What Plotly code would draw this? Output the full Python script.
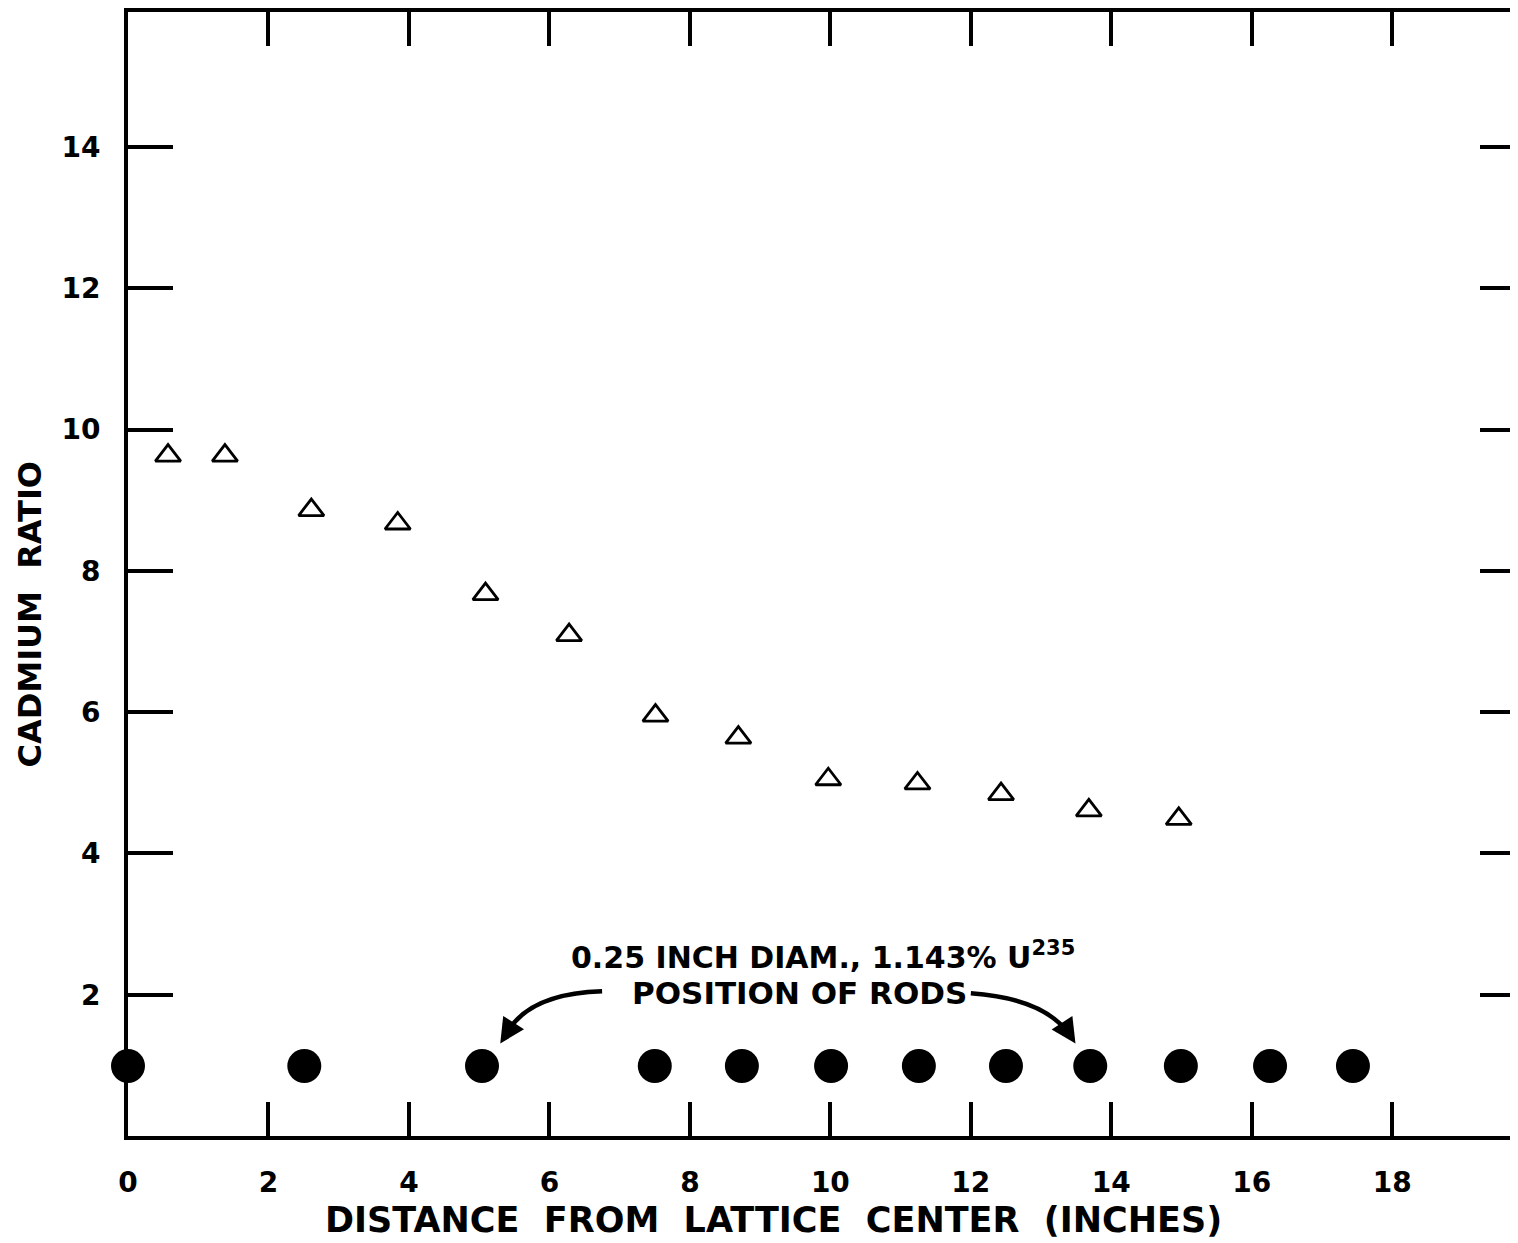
import plotly.graph_objects as go

# Data
tri_x = [0.57, 1.38, 2.61, 3.84, 5.09, 6.28, 7.51, 8.69, 9.97, 11.24, 12.43, 13.68, 14.96]
tri_y = [9.63, 9.63, 8.86, 8.67, 7.67, 7.09, 5.95, 5.64, 5.05, 4.99, 4.84, 4.61, 4.49]
rod_x = [0.0, 2.51, 5.04, 7.50, 8.74, 10.01, 11.26, 12.50, 13.70, 14.99, 16.26, 17.44]
rod_y = [0.99] * len(rod_x)

x_ticks = [0, 2, 4, 6, 8, 10, 12, 14, 16, 18]
y_ticks = [2, 4, 6, 8, 10, 12, 14]

FONT = "DejaVu Sans"
BLACK = "#000000"

fig = go.Figure()
fig.add_trace(go.Scatter(
    x=tri_x, y=tri_y, mode="markers",
    marker=dict(symbol="triangle-up-open", size=22, color=BLACK, line=dict(width=2.8, color=BLACK)),
    cliponaxis=False, showlegend=False))
fig.add_trace(go.Scatter(
    x=rod_x, y=rod_y, mode="markers",
    marker=dict(symbol="circle", size=34, color=BLACK, line=dict(width=0)),
    cliponaxis=False, showlegend=False))
# invisible trace for right-side tick axis
fig.add_trace(go.Scatter(x=[None], y=[None], yaxis="y2", showlegend=False))

fig.update_layout(
    width=1510, height=1235,
    margin=dict(l=120, r=0, t=2, b=107),
    paper_bgcolor="white", plot_bgcolor="white",
    xaxis=dict(range=[0, 19.79], tickvals=x_ticks, ticktext=[str(v) for v in x_ticks],
               ticks="inside", ticklen=34, tickwidth=3.5, tickcolor=BLACK,
               showline=True, linewidth=4, linecolor=BLACK, mirror="ticks",
               showgrid=False, zeroline=False,
               tickfont=dict(family=FONT, size=28, color=BLACK, weight="bold"),
               ticklabelstandoff=18),
    yaxis=dict(range=[0, 15.91], tickvals=y_ticks, ticktext=[str(v) for v in y_ticks],
               ticks="inside", ticklen=45, tickwidth=3.5, tickcolor=BLACK,
               showline=True, linewidth=4, linecolor=BLACK, mirror=False,
               showgrid=False, zeroline=False,
               tickfont=dict(family=FONT, size=28, color=BLACK, weight="bold"),
               ticklabelstandoff=18),
    yaxis2=dict(range=[0, 15.91], overlaying="y", side="right", tickvals=y_ticks,
                showticklabels=False, ticks="inside", ticklen=38, tickwidth=3.5,
                tickcolor=BLACK, showline=False, showgrid=False, zeroline=False),
)

# Axis titles
fig.add_annotation(text="DISTANCE  FROM  LATTICE  CENTER  (INCHES)",
                   xref="paper", yref="paper", x=(772 - 125) / 1393, y=-0.0745,
                   xanchor="center", yanchor="middle", showarrow=False,
                   font=dict(family=FONT, size=35, color=BLACK, weight="bold"))
fig.add_annotation(text="CADMIUM  RATIO", textangle=-90,
                   xref="paper", yref="paper", x=-0.0705, y=0.464,
                   xanchor="center", yanchor="middle", showarrow=False,
                   font=dict(family=FONT, size=32, color=BLACK, weight="bold"))

# Rod annotation text
fig.add_annotation(text="0.25 INCH DIAM., 1.143% U<sup>235</sup>",
                   xref="x", yref="y", x=9.89, y=2.55, xanchor="center", yanchor="middle",
                   showarrow=False, font=dict(family=FONT, size=30, color=BLACK, weight="bold"))
fig.add_annotation(text="POSITION OF RODS",
                   xref="x", yref="y", x=9.56, y=2.02, xanchor="center", yanchor="middle",
                   showarrow=False, font=dict(family=FONT, size=31, color=BLACK, weight="bold"))

# Curved arrows
fig.add_shape(type="path", xref="x", yref="y",
              path="M 6.75,2.05 Q 5.75,2.02 5.42,1.50",
              line=dict(color=BLACK, width=4.5))
fig.add_annotation(x=5.30, y=1.31, ax=5.50, ay=1.62, xref="x", yref="y", axref="x", ayref="y",
                   text="", showarrow=True, arrowhead=2, arrowsize=1.1, arrowwidth=4.5,
                   arrowcolor=BLACK, standoff=0)
fig.add_shape(type="path", xref="x", yref="y",
              path="M 12.0,2.02 Q 13.0,1.95 13.37,1.48",
              line=dict(color=BLACK, width=4.5))
fig.add_annotation(x=13.49, y=1.31, ax=13.30, ay=1.60, xref="x", yref="y", axref="x", ayref="y",
                   text="", showarrow=True, arrowhead=2, arrowsize=1.1, arrowwidth=4.5,
                   arrowcolor=BLACK, standoff=0)

fig.write_html("out.html")
